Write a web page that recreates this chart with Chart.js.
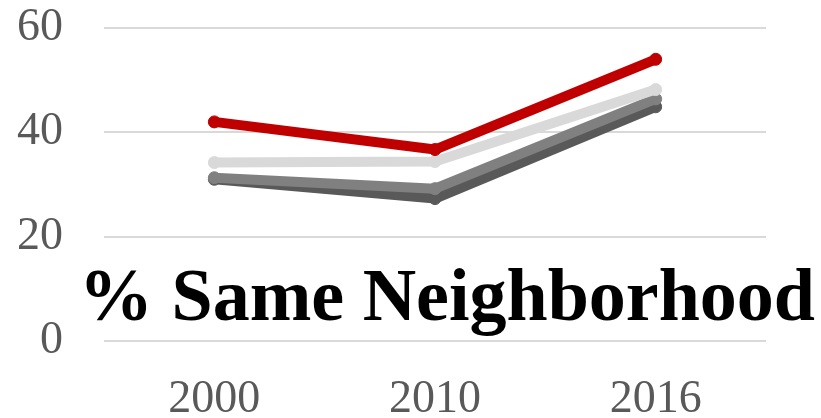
<!DOCTYPE html>
<html>
<head>
    <meta charset="UTF-8">
    <title>% Same Neighborhood</title>
    <script src="https://cdn.jsdelivr.net/npm/chart.js"></script>
    <style>
        html, body {
            margin: 0;
            padding: 0;
            background: #ffffff;
            overflow: hidden;
        }

        .chart-container {
            position: relative;
            width: 821px;
            height: 440px;
        }
    </style>
</head>
<body>
    <div class="chart-container">
        <canvas id="neighborhoodChart"></canvas>
    </div>

    <script>
        // Share of residents still in the same neighborhood, by year
        var years = ['2000', '2010', '2016'];
        var seriesRed = [42.0, 36.7, 54.0];
        var seriesLight = [34.2, 34.4, 48.2];
        var seriesMid = [31.3, 29.2, 46.4];
        var seriesDark = [31.0, 27.3, 44.9];
        var yTicks = [0, 20, 40, 60];
        var titleText = '% Same Neighborhood';

        var serif = '"Liberation Serif", "Times New Roman", serif';

        function lineSet(label, data, color) {
            return {
                label: label,
                data: data,
                borderColor: color,
                backgroundColor: color,
                borderWidth: 10,
                pointRadius: 6,
                pointBorderWidth: 1,
                pointBackgroundColor: color,
                pointBorderColor: color,
                borderJoinStyle: 'round',
                borderCapStyle: 'round',
                fill: false,
                tension: 0
            };
        }

        // big overlay heading drawn over the plot
        var overlayTitle = {
            id: 'overlayTitle',
            afterDatasetsDraw: function (chart) {
                var ctx = chart.ctx;
                var y = chart.scales.y;
                ctx.save();
                ctx.font = 'bold 74px ' + serif;
                ctx.fillStyle = '#000000';
                ctx.textAlign = 'left';
                ctx.textBaseline = 'alphabetic';
                ctx.fillText(titleText, chart.chartArea.left - 25, y.getPixelForValue(4));
                ctx.restore();
            }
        };

        var ctx = document.getElementById('neighborhoodChart').getContext('2d');
        var chart = new Chart(ctx, {
            type: 'line',
            data: {
                labels: years,
                datasets: [
                    lineSet('Red', seriesRed, '#C00000'),
                    lineSet('Light', seriesLight, '#D9D9D9'),
                    lineSet('Mid', seriesMid, '#808080'),
                    lineSet('Dark', seriesDark, '#595959')
                ]
            },
            options: {
                responsive: true,
                maintainAspectRatio: false,
                animation: false,
                layout: {
                    padding: { left: 14, right: 55, top: 0, bottom: 0 }
                },
                plugins: {
                    legend: { display: false },
                    title: { display: false },
                    tooltip: { enabled: false }
                },
                scales: {
                    x: {
                        offset: true,
                        grid: { display: false, drawTicks: false },
                        border: { display: false },
                        afterFit: function (scale) {
                            scale.height = 99;
                        },
                        ticks: {
                            color: '#595959',
                            padding: 31,
                            font: { family: serif, size: 46 }
                        }
                    },
                    y: {
                        min: 0,
                        max: 60,
                        afterBuildTicks: function (scale) {
                            scale.ticks = yTicks.map(function (v) { return { value: v }; });
                        },
                        afterFit: function (scale) {
                            scale.width = 90;
                            scale.paddingTop = 28;
                            scale.paddingBottom = 0;
                        },
                        grid: { color: '#D9D9D9', lineWidth: 2, drawTicks: false },
                        border: { display: false },
                        ticks: {
                            color: '#595959',
                            padding: 41,
                            font: { family: serif, size: 46 }
                        }
                    }
                }
            },
            plugins: [overlayTitle]
        });
    </script>
</body>
</html>
